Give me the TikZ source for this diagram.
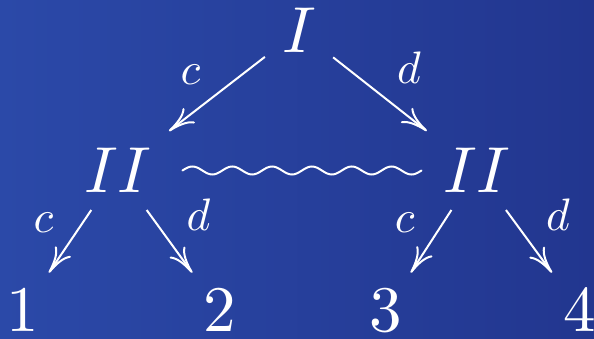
\documentclass[tikz,border=0pt]{standalone}
\usetikzlibrary{arrows.meta}
\definecolor{bgleft}{RGB}{43,73,168}
\definecolor{bgright}{RGB}{34,54,143}
\tikzset{
  lvl/.style={scale=3.25, inner sep=2.46pt, text=white},
  br/.style={draw=white, line width=1pt,
    -{Computer Modern Rightarrow[length=13pt,width=9.5pt]}},
  lab/.style={midway, anchor=base, scale=2.275, inner sep=0pt, text=white},
  labl/.style={shift={(-26.5,9)}, lab},
  labr/.style={shift={(29,11)}, lab},
  wave/.style={draw=white, line width=1pt, line cap=round}
}

\begin{document}
\begin{tikzpicture}[x=0.5pt,y=0.5pt]
  \shade[left color=bgleft,right color=bgright] (0,0) rectangle (594,338);
  \useasboundingbox (0,0) rectangle (594,338);
  % levels
  \node[lvl] (I) at (299,307.5) {$I$};
  \node[lvl] (IIl) at (118,167.5) {$II$};
  \node[lvl] (IIr) at (477,167.5) {$II$};
  \node[lvl] (n1) at (23,27) {$1$};
  \node[lvl] (n2) at (220,27) {$2$};
  \node[lvl] (n3) at (386,27) {$3$};
  \node[lvl] (n4) at (580,27) {$4$};
  % branches
  \draw[br] (I) -- (IIl) node[labl] {$c$};
  \draw[br] (I) -- (IIr) node[labr] {$d$};
  \draw[br] (IIl) -- (n1) node[labl] {$c$};
  \draw[br] (IIl) -- (n2) node[labr] {$d$};
  \draw[br] (IIr) -- (n3) node[labl] {$c$};
  \draw[br] (IIr) -- (n4) node[labr] {$d$};
  % wavy link, six waves from II to II
  \draw[wave, shift={([xshift=6.75pt]IIl.east)}]
    plot[domain=0:239, samples=145, smooth] (\x, {4*sin(\x*9.0377)});
\end{tikzpicture}
\end{document}
